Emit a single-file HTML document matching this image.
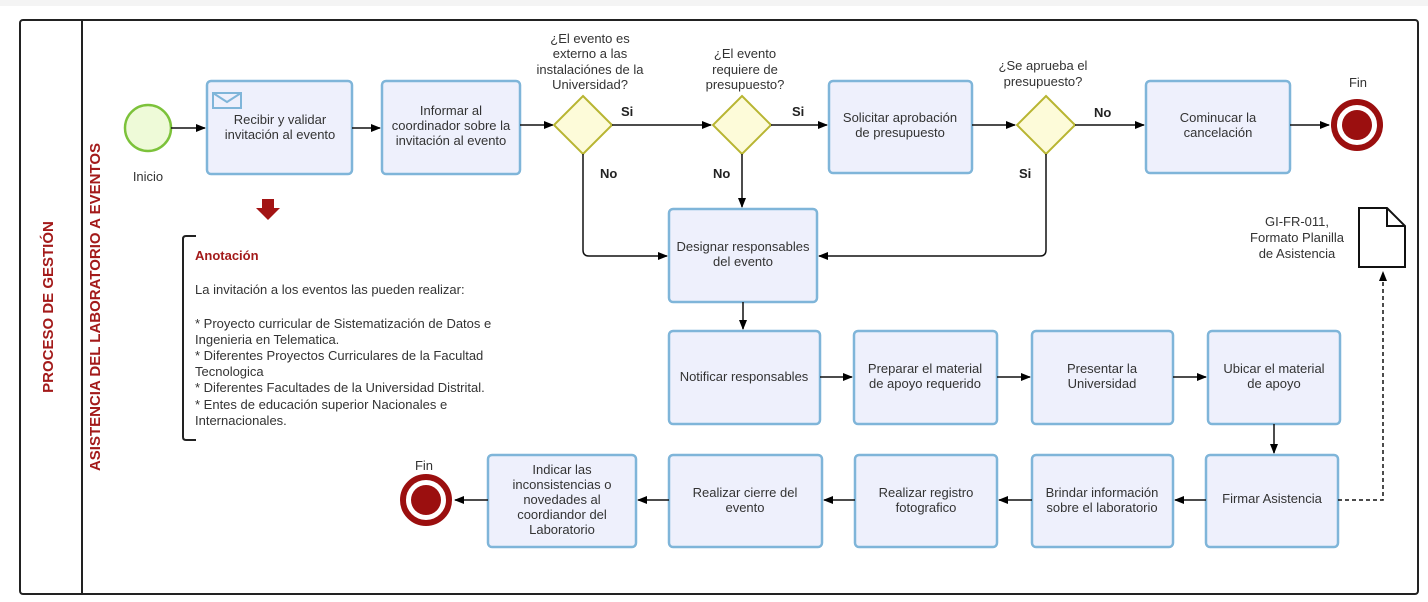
<!DOCTYPE html>
<html><head><meta charset="utf-8"><style>
html,body{margin:0;padding:0;background:#fff;}
svg{display:block;font-family:"Liberation Sans",sans-serif;}
.b{fill:#eef0fc;stroke:#7fb5d9;stroke-width:2.5;}
.t{font-size:13px;fill:#333;text-anchor:middle;}
.l{stroke:#111;stroke-width:1.5;fill:none;}
.g{fill:#fdfbd9;stroke:#b8b532;stroke-width:2;}
.bl{font-size:13px;font-weight:bold;fill:#222;}
</style></head><body>
<svg width="1428" height="602" viewBox="0 0 1428 602">
<defs><marker id="a" markerWidth="10" markerHeight="8" refX="9" refY="4" orient="auto" markerUnits="userSpaceOnUse"><path d="M0,0L10,4L0,8z" fill="#000"/></marker></defs>
<rect x="0" y="0" width="1428" height="6" fill="#f4f4f4"/>
<rect x="20" y="20" width="1398" height="574" rx="3" fill="#fff" stroke="#222" stroke-width="2"/>
<line x1="82" y1="20" x2="82" y2="594" stroke="#222" stroke-width="2"/>
<text transform="translate(53,307) rotate(-90)" text-anchor="middle" font-size="15" font-weight="bold" fill="#a31a1a">PROCESO DE GESTIÓN</text>
<text transform="translate(100,307) rotate(-90)" text-anchor="middle" font-size="15" font-weight="bold" fill="#a31a1a">ASISTENCIA DEL LABORATORIO A EVENTOS</text>

<circle cx="148" cy="128" r="23" fill="#eefad8" stroke="#7cc23a" stroke-width="2.5"/>
<text x="148" y="181" class="t">Inicio</text>
<line x1="171" y1="128" x2="205" y2="128" class="l" marker-end="url(#a)"/>

<rect x="207" y="81" width="145" height="93" rx="4" class="b"/>
<rect x="213" y="93" width="28" height="15" fill="none" stroke="#7fb5d9" stroke-width="2"/>
<path d="M213,93 L227,102 L241,93" fill="none" stroke="#7fb5d9" stroke-width="2"/>
<text x="280" y="124" class="t">Recibir y validar</text><text x="280" y="139" class="t">invitación al evento</text>
<line x1="352" y1="128" x2="380" y2="128" class="l" marker-end="url(#a)"/>

<rect x="382" y="81" width="138" height="93" rx="4" class="b"/>
<text x="451" y="115" class="t">Informar al</text><text x="451" y="130" class="t">coordinador sobre la</text><text x="451" y="145" class="t">invitación al evento</text>
<line x1="520" y1="125" x2="553" y2="125" class="l" marker-end="url(#a)"/>

<path d="M583,96 L612,125 L583,154 L554,125z" class="g"/>
<text x="590" y="43" class="t">¿El evento es</text><text x="590" y="58" class="t">externo a las</text><text x="590" y="74" class="t">instalaciónes de la</text><text x="590" y="89" class="t">Universidad?</text>
<text x="621" y="116" class="bl">Si</text>
<line x1="612" y1="125" x2="711" y2="125" class="l" marker-end="url(#a)"/>
<text x="600" y="178" class="bl">No</text>
<path d="M583,154 V250 Q583,256 589,256 H667" class="l" marker-end="url(#a)"/>

<path d="M742,96 L771,125 L742,154 L713,125z" class="g"/>
<text x="745" y="58" class="t">¿El evento</text><text x="745" y="74" class="t">requiere de</text><text x="745" y="89" class="t">presupuesto?</text>
<text x="792" y="116" class="bl">Si</text>
<line x1="771" y1="125" x2="827" y2="125" class="l" marker-end="url(#a)"/>
<text x="713" y="178" class="bl">No</text>
<line x1="742" y1="154" x2="742" y2="207" class="l" marker-end="url(#a)"/>

<rect x="829" y="81" width="143" height="92" rx="4" class="b"/>
<text x="900" y="122" class="t">Solicitar aprobación</text><text x="900" y="137" class="t">de presupuesto</text>
<line x1="972" y1="125" x2="1015" y2="125" class="l" marker-end="url(#a)"/>

<path d="M1046,96 L1075,125 L1046,154 L1017,125z" class="g"/>
<text x="1043" y="70" class="t">¿Se aprueba el</text><text x="1043" y="86" class="t">presupuesto?</text>
<text x="1094" y="117" class="bl">No</text>
<line x1="1075" y1="125" x2="1144" y2="125" class="l" marker-end="url(#a)"/>
<text x="1019" y="178" class="bl">Si</text>
<path d="M1046,154 V250 Q1046,256 1040,256 H819" class="l" marker-end="url(#a)"/>

<rect x="1146" y="81" width="144" height="92" rx="4" class="b"/>
<text x="1218" y="122" class="t">Cominucar la</text><text x="1218" y="137" class="t">cancelación</text>
<line x1="1290" y1="125" x2="1329" y2="125" class="l" marker-end="url(#a)"/>
<circle cx="1357" cy="125" r="23" fill="#fff" stroke="#9b0f0f" stroke-width="6"/>
<circle cx="1357" cy="125" r="15" fill="#9b0f0f"/>
<text x="1358" y="87" class="t">Fin</text>

<path d="M262,199 h12 v9 h6 l-12,12 l-12,-12 h6z" fill="#a31414"/>
<path d="M196,236 H186 Q183,236 183,239 V437 Q183,440 186,440 H196" fill="none" stroke="#222" stroke-width="2"/>
<text x="195" y="260" font-size="13" font-weight="bold" fill="#a31a1a">Anotación</text>
<g font-size="13" fill="#333">
<text x="195" y="294">La invitación a los eventos las pueden realizar:</text>
<text x="195" y="328">* Proyecto curricular de Sistematización de Datos e</text>
<text x="195" y="344">Ingenieria en Telematica.</text>
<text x="195" y="360">* Diferentes Proyectos Curriculares de la Facultad</text>
<text x="195" y="376">Tecnologica</text>
<text x="195" y="392">* Diferentes Facultades de la Universidad Distrital.</text>
<text x="195" y="409">* Entes de educación superior Nacionales e</text>
<text x="195" y="425">Internacionales.</text>
</g>

<rect x="669" y="209" width="148" height="93" rx="4" class="b"/>
<text x="743" y="251" class="t">Designar responsables</text><text x="743" y="266" class="t">del evento</text>
<line x1="743" y1="302" x2="743" y2="329" class="l" marker-end="url(#a)"/>

<rect x="669" y="331" width="151" height="93" rx="4" class="b"/>
<text x="744" y="381" class="t">Notificar responsables</text>
<line x1="820" y1="377" x2="852" y2="377" class="l" marker-end="url(#a)"/>
<rect x="854" y="331" width="143" height="93" rx="4" class="b"/>
<text x="925" y="373" class="t">Preparar el material</text><text x="925" y="388" class="t">de apoyo requerido</text>
<line x1="997" y1="377" x2="1030" y2="377" class="l" marker-end="url(#a)"/>
<rect x="1032" y="331" width="141" height="93" rx="4" class="b"/>
<text x="1102" y="373" class="t">Presentar la</text><text x="1102" y="388" class="t">Universidad</text>
<line x1="1173" y1="377" x2="1206" y2="377" class="l" marker-end="url(#a)"/>
<rect x="1208" y="331" width="132" height="93" rx="4" class="b"/>
<text x="1274" y="373" class="t">Ubicar el material</text><text x="1274" y="388" class="t">de apoyo</text>
<line x1="1274" y1="424" x2="1274" y2="453" class="l" marker-end="url(#a)"/>

<rect x="1206" y="455" width="132" height="92" rx="4" class="b"/>
<text x="1272" y="503" class="t">Firmar Asistencia</text>
<line x1="1206" y1="500" x2="1175" y2="500" class="l" marker-end="url(#a)"/>
<rect x="1032" y="455" width="141" height="92" rx="4" class="b"/>
<text x="1102" y="497" class="t">Brindar información</text><text x="1102" y="512" class="t">sobre el laboratorio</text>
<line x1="1032" y1="500" x2="999" y2="500" class="l" marker-end="url(#a)"/>
<rect x="855" y="455" width="142" height="92" rx="4" class="b"/>
<text x="926" y="497" class="t">Realizar registro</text><text x="926" y="512" class="t">fotografico</text>
<line x1="855" y1="500" x2="824" y2="500" class="l" marker-end="url(#a)"/>
<rect x="669" y="455" width="153" height="92" rx="4" class="b"/>
<text x="745" y="497" class="t">Realizar cierre del</text><text x="745" y="512" class="t">evento</text>
<line x1="669" y1="500" x2="638" y2="500" class="l" marker-end="url(#a)"/>
<rect x="488" y="455" width="148" height="92" rx="4" class="b"/>
<text x="562" y="474" class="t">Indicar las</text><text x="562" y="489" class="t">inconsistencias o</text><text x="562" y="504" class="t">novedades al</text><text x="562" y="519" class="t">coordiandor del</text><text x="562" y="534" class="t">Laboratorio</text>
<line x1="488" y1="500" x2="455" y2="500" class="l" marker-end="url(#a)"/>
<circle cx="426" cy="500" r="23" fill="#fff" stroke="#9b0f0f" stroke-width="6"/>
<circle cx="426" cy="500" r="15" fill="#9b0f0f"/>
<text x="424" y="470" class="t">Fin</text>

<path d="M1338,500 H1383 V272" fill="none" stroke="#111" stroke-width="1.5" stroke-dasharray="4,3" marker-end="url(#a)"/>
<path d="M1359,208 H1387 L1405,226 V267 H1359z" fill="#fff" stroke="#111" stroke-width="2"/>
<path d="M1387,208 V226 H1405" fill="none" stroke="#111" stroke-width="2"/>
<text x="1297" y="226" class="t">GI-FR-011,</text><text x="1297" y="242" class="t">Formato Planilla</text><text x="1297" y="258" class="t">de Asistencia</text>
</svg>
</body></html>
